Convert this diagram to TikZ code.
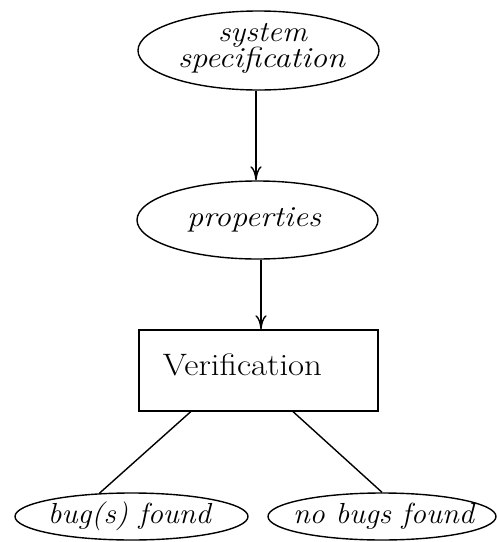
\documentclass[tikz,border=0pt]{standalone}
\usetikzlibrary{shapes.geometric,arrows.meta,calc}
\usepackage{graphicx}
% \placetext{dx (doubled)}{baseline shift}{width}{text}
\newcommand{\placetext}[4]{\makebox[0pt]{\hspace{#1}\raisebox{#2}[0pt][0pt]{\resizebox{#3}{\height}{#4}}}}
\tikzset{
  oval/.style={draw, ellipse, inner sep=0pt, line width=0.7pt, font=\fontsize{14.5}{16}\selectfont\itshape},
  procbox/.style={draw, rectangle, inner sep=0pt, line width=0.7pt, font=\fontsize{15.5}{18}\selectfont},
  conn/.style={line width=0.7pt},
  arr/.style={conn, -{To[length=7pt,width=5.5pt]}}
}
\begin{document}
\begin{tikzpicture}[x=0.5pt,y=-0.5pt]
\useasboundingbox (0,0) rectangle (498,542);
\node[oval, minimum width=120.5pt, minimum height=39.5pt] (spec) at (258.5,50.5)
  {\placetext{4pt}{4.75pt}{44.5pt}{system}\placetext{3pt}{-8.6pt}{83.5pt}{specification}};
\node[oval, minimum width=120.5pt, minimum height=39pt] (prop) at (257.5,220)
  {\placetext{-3.5pt}{-3.35pt}{67pt}{properties}};
\node[procbox, minimum width=119.5pt, minimum height=40.5pt] (ver) at (258.5,370.5)
  {\placetext{-16pt}{-2.25pt}{79.5pt}{Verification}};
\node[oval, minimum width=116.5pt, minimum height=23.5pt] (bug) at (131.5,516.5)
  {\placetext{-2pt}{-3.4pt}{81.5pt}{bug(s) found}};
\node[oval, minimum width=114pt, minimum height=23.5pt] (nobug) at (382,516.5)
  {\placetext{1.5pt}{-3.4pt}{90.5pt}{no bugs found}};
\coordinate (a1) at ([xshift=-1.25pt]spec.south);
\coordinate (a2) at ([xshift=1.75pt]prop.south);
\draw[arr] (a1) -- (a1 |- prop.north);
\draw[arr] (a2) -- (a2 |- ver.north);
\draw[conn] ($(ver.south west)!0.218!(ver.south east)$) -- (bug.144);
\draw[conn] ($(ver.south west)!0.644!(ver.south east)$) -- (nobug.north);
\end{tikzpicture}
\end{document}
